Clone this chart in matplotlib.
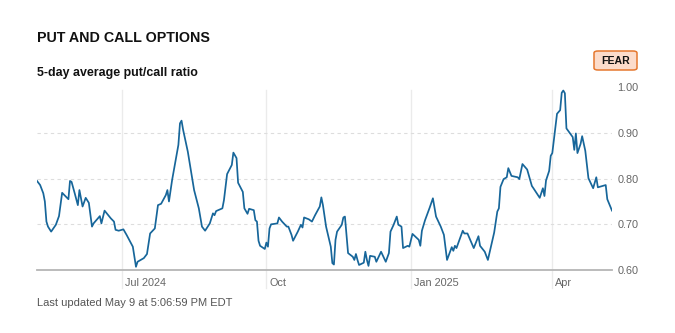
import pandas as pd
import matplotlib.pyplot as plt
import matplotlib.transforms as mtransforms
from matplotlib.patches import FancyBboxPatch

# 5-day average put/call ratio
dates = [
    '2024-05-08', '2024-05-10', '2024-05-12', '2024-05-13', '2024-05-14', '2024-05-15',
    '2024-05-17', '2024-05-20', '2024-05-22', '2024-05-24', '2024-05-26', '2024-05-28',
    '2024-05-29', '2024-05-30', '2024-06-01', '2024-06-03', '2024-06-04', '2024-06-06',
    '2024-06-08', '2024-06-10', '2024-06-12', '2024-06-13', '2024-06-17', '2024-06-18',
    '2024-06-20', '2024-06-24', '2024-06-26', '2024-06-27', '2024-06-29', '2024-07-02',
    '2024-07-04', '2024-07-06', '2024-07-08', '2024-07-09', '2024-07-10', '2024-07-11',
    '2024-07-15', '2024-07-17', '2024-07-19', '2024-07-22', '2024-07-24', '2024-07-26',
    '2024-07-29', '2024-07-30', '2024-07-31', '2024-08-02', '2024-08-06', '2024-08-07',
    '2024-08-08', '2024-08-09', '2024-08-12', '2024-08-16', '2024-08-19', '2024-08-21',
    '2024-08-23', '2024-08-26', '2024-08-28', '2024-08-29', '2024-08-30', '2024-09-03',
    '2024-09-04', '2024-09-06', '2024-09-09', '2024-09-10', '2024-09-12', '2024-09-13',
    '2024-09-16', '2024-09-17', '2024-09-19', '2024-09-20', '2024-09-23', '2024-09-24',
    '2024-09-25', '2024-09-26', '2024-09-27', '2024-09-30', '2024-10-01', '2024-10-02',
    '2024-10-03', '2024-10-04', '2024-10-08', '2024-10-09', '2024-10-11', '2024-10-14',
    '2024-10-15', '2024-10-17', '2024-10-18', '2024-10-21', '2024-10-23', '2024-10-24',
    '2024-10-25', '2024-10-28', '2024-10-30', '2024-11-01', '2024-11-04', '2024-11-05',
    '2024-11-06', '2024-11-08', '2024-11-11', '2024-11-12', '2024-11-13', '2024-11-14',
    '2024-11-15', '2024-11-18', '2024-11-19', '2024-11-20', '2024-11-22', '2024-11-25',
    '2024-11-26', '2024-11-27', '2024-11-28', '2024-11-29', '2024-12-02', '2024-12-03',
    '2024-12-04', '2024-12-05', '2024-12-06', '2024-12-09', '2024-12-10', '2024-12-13',
    '2024-12-16', '2024-12-18', '2024-12-19', '2024-12-21', '2024-12-23', '2024-12-24',
    '2024-12-26', '2024-12-27', '2024-12-30', '2024-12-31', '2025-01-02', '2025-01-06',
    '2025-01-07', '2025-01-08', '2025-01-10', '2025-01-13', '2025-01-15', '2025-01-17',
    '2025-01-20', '2025-01-22', '2025-01-24', '2025-01-27', '2025-01-28', '2025-01-29',
    '2025-01-30', '2025-02-03', '2025-02-04', '2025-02-06', '2025-02-10', '2025-02-13',
    '2025-02-14', '2025-02-17', '2025-02-19', '2025-02-23', '2025-02-25', '2025-02-26',
    '2025-02-27', '2025-03-01', '2025-03-03', '2025-03-04', '2025-03-06', '2025-03-10',
    '2025-03-11', '2025-03-13', '2025-03-16', '2025-03-19', '2025-03-20', '2025-03-24',
    '2025-03-26', '2025-03-27', '2025-03-28', '2025-03-30', '2025-03-31', '2025-04-01',
    '2025-04-04', '2025-04-06', '2025-04-07', '2025-04-08', '2025-04-09', '2025-04-10',
    '2025-04-14', '2025-04-15', '2025-04-16', '2025-04-17', '2025-04-19', '2025-04-20',
    '2025-04-22', '2025-04-24', '2025-04-27', '2025-04-29', '2025-04-30', '2025-05-05',
    '2025-05-06', '2025-05-09',
]
ratio = [
    0.795, 0.786, 0.768, 0.750, 0.706, 0.695,
    0.684, 0.699, 0.718, 0.769, 0.762, 0.755,
    0.795, 0.793, 0.768, 0.742, 0.775, 0.739,
    0.758, 0.747, 0.695, 0.702, 0.718, 0.702,
    0.730, 0.713, 0.706, 0.688, 0.686, 0.689,
    0.677, 0.664, 0.651, 0.629, 0.607, 0.618,
    0.626, 0.635, 0.680, 0.691, 0.742, 0.745,
    0.764, 0.775, 0.750, 0.797, 0.874, 0.921,
    0.927, 0.907, 0.859, 0.775, 0.735, 0.695,
    0.686, 0.702, 0.724, 0.720, 0.729, 0.735,
    0.753, 0.810, 0.830, 0.857, 0.845, 0.791,
    0.771, 0.735, 0.723, 0.734, 0.731, 0.709,
    0.706, 0.664, 0.653, 0.646, 0.660, 0.651,
    0.691, 0.700, 0.702, 0.715, 0.706, 0.695,
    0.695, 0.677, 0.664, 0.684, 0.699, 0.693,
    0.715, 0.711, 0.706, 0.720, 0.739, 0.759,
    0.742, 0.695, 0.651, 0.615, 0.612, 0.666,
    0.684, 0.699, 0.715, 0.717, 0.637, 0.629,
    0.622, 0.635, 0.622, 0.611, 0.616, 0.640,
    0.622, 0.609, 0.631, 0.629, 0.618, 0.640,
    0.618, 0.637, 0.684, 0.699, 0.717, 0.699,
    0.695, 0.648, 0.653, 0.651, 0.679, 0.666,
    0.653, 0.686, 0.709, 0.737, 0.757, 0.717,
    0.695, 0.677, 0.622, 0.650, 0.642, 0.653,
    0.648, 0.686, 0.680, 0.680, 0.648, 0.674,
    0.653, 0.640, 0.622, 0.682, 0.728, 0.735,
    0.782, 0.799, 0.803, 0.823, 0.806, 0.803,
    0.799, 0.832, 0.820, 0.784, 0.779, 0.758,
    0.779, 0.762, 0.796, 0.817, 0.850, 0.856,
    0.942, 0.950, 0.988, 0.993, 0.987, 0.910,
    0.891, 0.863, 0.899, 0.856, 0.876, 0.893,
    0.861, 0.801, 0.779, 0.803, 0.781, 0.786,
    0.755, 0.730,
]

month_ticks = ['2024-07-01', '2024-10-01', '2025-01-01', '2025-04-01']
month_labels = ['Jul 2024', 'Oct', 'Jan 2025', 'Apr']
y_ticks = [0.60, 0.70, 0.80, 0.90, 1.00]

x = pd.to_datetime(dates)
tick_x = pd.to_datetime(month_ticks)

plt.rcParams['font.family'] = ['Liberation Sans']

fig = plt.figure(figsize=(6.75, 3.33), dpi=100)
ax = fig.add_axes([37 / 675, 1 - 270 / 333, (612 - 37) / 675, (270 - 87.3) / 333])

# vertical month lines, running a bit below the baseline
for t in tick_x:
    ax.axvline(t, ymin=-0.1, ymax=0.985, color='#ebebeb', lw=1, clip_on=False, zorder=0)

# dashed horizontal grid
for v in [0.70, 0.80, 0.90]:
    ax.axhline(v, color='#dddddd', lw=0.8, dashes=(3, 3), zorder=0)

ax.plot(x, ratio, color='#17669a', lw=1.25, zorder=3)

ax.set_xlim(x[0], x[-1])
ax.set_ylim(0.60, 1.00)

for s in ['top', 'left', 'right']:
    ax.spines[s].set_visible(False)
ax.spines['bottom'].set_color('#b5b5b5')
ax.spines['bottom'].set_linewidth(1.3)

ax.yaxis.tick_right()
ax.set_yticks(y_ticks)
ax.set_yticklabels([f'{v:.2f}' for v in y_ticks], fontsize=7.8, color='#666666')
ax.tick_params(axis='y', length=0, pad=4)

ax.set_xticks(tick_x)
ax.set_xticklabels(month_labels, fontsize=7.8, color='#666666', ha='left')
ax.tick_params(axis='x', length=0, pad=6)
shift = mtransforms.ScaledTranslation(3 / 100, 0, fig.dpi_scale_trans)
for lab in ax.get_xticklabels():
    lab.set_transform(lab.get_transform() + shift)

fig.text(37 / 675, 1 - 38 / 333, 'PUT AND CALL OPTIONS', fontsize=10.3, fontweight='bold',
         color='#111111', va='center', ha='left')
fig.text(37 / 675, 1 - 73 / 333, '5-day average put/call ratio', fontsize=8.9, fontweight='bold',
         color='#111111', va='center', ha='left')
fig.text(37 / 675, 1 - 303 / 333, 'Last updated May 9 at 5:06:59 PM EDT',
         fontsize=8, color='#555555', va='center', ha='left')

# FEAR badge
badge = FancyBboxPatch((594 / 675, 1 - 70 / 333), 43 / 675, 19 / 333,
                       boxstyle='round,pad=0,rounding_size=0.006', transform=fig.transFigure,
                       facecolor='#fcdccb', edgecolor='#e5782f', lw=1.1)
fig.patches.append(badge)
fig.text(615.5 / 675, 1 - 60.5 / 333, 'FEAR', fontsize=7.6, fontweight='bold', color='#111111',
         va='center', ha='center')

fig.savefig('out.png', dpi=100)
